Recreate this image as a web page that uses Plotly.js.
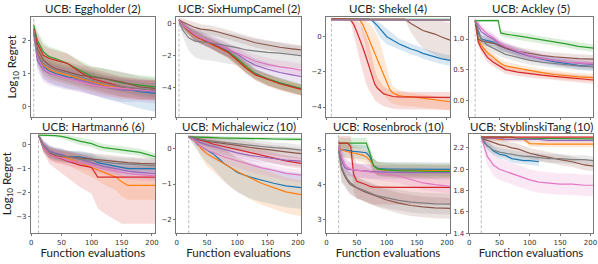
<!DOCTYPE html>
<html><head><meta charset="utf-8">
<script src="https://cdn.plot.ly/plotly-3.0.1.min.js"></script>
<style>html,body{margin:0;padding:0;background:#fff}#g{width:598px;height:264px}</style>
</head><body><div id="g"></div>
<script>
// series order: blue, orange, green, red, purple, brown, pink, gray
const SERIES = ['s1','s2','s3','s4','s5','s6','s7','s8'];
const COLORS = ['#1f77b4','#ff7f0e','#2ca02c','#d62728','#9467bd','#8c564b','#e377c2','#7f7f7f'];
const TITLES = ['UCB: Eggholder (2)','UCB: SixHumpCamel (2)','UCB: Shekel (4)','UCB: Ackley (5)',
                'UCB: Hartmann6 (6)','UCB: Michalewicz (10)','UCB: Rosenbrock (10)','UCB: StyblinskiTang (10)'];
const INIT = [4, 4, 8, 10, 12, 20, 20, 20];
const YRANGES = [[-0.3,2.7],[-5.8,0.4],[-4.55,1.12],[-0.27,1.36],[-3.7,0.45],[-2.38,0.40],[2.6,5.46],[1.4,2.33]];
const YTICKS = [[0,1,2],[-4,-2,0],[-4,-2,0],[0,0.5,1],[-3,-2,-1,0],[-2,-1,0],[3,4,5],[1.4,1.6,1.8,2.0,2.2]];
const XTICKS = [0,50,100,150,200];

// ---- Eggholder (2)
const EGG_X = [4,10,20,30,40,60,80,100,120,150,180,205];
const EGG_MEAN = [
 [2.25,1.55,1.2,1.08,1.0,0.9,0.85,0.75,0.65,0.55,0.45,0.4],
 [2.3,1.65,1.25,1.12,1.05,0.95,0.85,0.75,0.65,0.55,0.5,0.5],
 [2.45,2.0,1.65,1.5,1.45,1.3,1.1,0.92,0.85,0.72,0.65,0.6],
 [2.35,1.9,1.55,1.45,1.4,1.3,1.05,0.85,0.75,0.6,0.52,0.5],
 [2.2,1.4,1.1,1.0,0.95,0.85,0.8,0.72,0.6,0.5,0.5,0.45],
 [2.3,1.75,1.4,1.25,1.15,1.05,0.95,0.9,0.85,0.75,0.6,0.55],
 [2.3,1.5,1.15,1.02,0.95,0.85,0.75,0.65,0.6,0.55,0.5,0.48],
 [2.25,1.6,1.3,1.18,1.1,1.0,0.9,0.8,0.7,0.6,0.55,0.5]];
const EGG_UP = [
 [0.15,0.3,0.3,0.3,0.3,0.3,0.3,0.3,0.3,0.3,0.3,0.3],
 [0.15,0.3,0.3,0.3,0.3,0.3,0.3,0.3,0.3,0.3,0.3,0.3],
 [0.15,0.3,0.3,0.3,0.3,0.3,0.3,0.3,0.3,0.3,0.3,0.3],
 [0.15,0.3,0.3,0.3,0.3,0.3,0.3,0.3,0.3,0.3,0.3,0.3],
 [0.15,0.3,0.3,0.3,0.3,0.3,0.3,0.3,0.3,0.3,0.3,0.3],
 [0.15,0.3,0.3,0.3,0.3,0.3,0.3,0.3,0.3,0.3,0.3,0.3],
 [0.15,0.3,0.3,0.3,0.3,0.3,0.3,0.3,0.3,0.3,0.3,0.3],
 [0.15,0.3,0.3,0.3,0.3,0.3,0.3,0.3,0.3,0.3,0.3,0.3]];
const EGG_DN = [
 [0.2,0.3,0.35,0.35,0.35,0.35,0.35,0.38,0.4,0.45,0.5,0.55],
 [0.15,0.3,0.3,0.3,0.3,0.3,0.3,0.3,0.3,0.3,0.3,0.3],
 [0.15,0.3,0.3,0.3,0.3,0.3,0.3,0.3,0.3,0.3,0.3,0.3],
 [0.15,0.3,0.3,0.3,0.3,0.3,0.3,0.3,0.3,0.3,0.3,0.3],
 [0.15,0.3,0.35,0.35,0.35,0.35,0.35,0.35,0.35,0.35,0.35,0.35],
 [0.15,0.3,0.3,0.3,0.3,0.3,0.3,0.3,0.3,0.3,0.3,0.3],
 [0.15,0.3,0.3,0.3,0.3,0.3,0.3,0.3,0.3,0.3,0.3,0.3],
 [0.15,0.3,0.3,0.3,0.3,0.3,0.3,0.3,0.3,0.3,0.3,0.3]];

// ---- SixHumpCamel (2)
const SHC_X = [4,10,20,30,40,55,70,85,100,115,130,150,170,190,205];
const SHC_MEAN = [
 [0.2,-0.1,-0.45,-0.75,-0.95,-1.2,-1.45,-1.75,-2.2,-2.75,-3.1,-3.45,-3.7,-3.9,-4.05],
 [0.2,-0.1,-0.5,-0.8,-1.0,-1.25,-1.5,-1.8,-2.3,-2.75,-3.15,-3.45,-3.72,-3.92,-4.08],
 [0.2,-0.1,-0.45,-0.75,-0.95,-1.2,-1.5,-1.75,-2.2,-2.7,-3.15,-3.45,-3.7,-3.9,-4.05],
 [0.2,-0.1,-0.45,-0.75,-0.95,-1.2,-1.5,-1.8,-2.3,-2.8,-3.2,-3.5,-3.75,-3.95,-4.1],
 [0.2,-0.1,-0.4,-0.7,-0.9,-1.15,-1.4,-1.65,-1.9,-2.3,-2.6,-2.85,-3.05,-3.2,-3.3],
 [0.2,0.1,-0.1,-0.25,-0.35,-0.42,-0.55,-0.7,-0.88,-1.03,-1.2,-1.35,-1.48,-1.58,-1.65],
 [0.2,-0.1,-0.4,-0.7,-0.9,-1.15,-1.35,-1.6,-1.85,-2.1,-2.35,-2.55,-2.7,-2.8,-2.9],
 [0.1,-0.4,-0.9,-1.1,-1.15,-1.2,-1.3,-1.4,-1.5,-1.65,-1.72,-1.8,-1.85,-1.95,-2.0]];
const SHC_UP = [
 [0.1,0.2,0.25,0.3,0.3,0.3,0.3,0.3,0.3,0.3,0.3,0.3,0.3,0.3,0.3],
 [0.1,0.2,0.25,0.3,0.3,0.3,0.3,0.3,0.3,0.3,0.3,0.3,0.3,0.3,0.3],
 [0.1,0.2,0.25,0.3,0.3,0.3,0.3,0.3,0.3,0.3,0.3,0.3,0.3,0.3,0.3],
 [0.1,0.2,0.25,0.3,0.3,0.3,0.3,0.3,0.3,0.3,0.3,0.3,0.3,0.3,0.3],
 [0.1,0.2,0.3,0.35,0.4,0.4,0.4,0.4,0.4,0.4,0.4,0.4,0.4,0.4,0.4],
 [0.1,0.2,0.3,0.3,0.3,0.3,0.3,0.3,0.3,0.3,0.3,0.3,0.3,0.3,0.3],
 [0.1,0.2,0.3,0.35,0.4,0.4,0.4,0.4,0.4,0.4,0.4,0.4,0.4,0.4,0.4],
 [0.15,0.35,0.6,0.75,0.8,0.8,0.8,0.8,0.8,0.8,0.75,0.7,0.65,0.6,0.6]];
const SHC_DN = [
 [0.1,0.2,0.25,0.3,0.3,0.3,0.35,0.35,0.35,0.35,0.35,0.4,0.4,0.4,0.4],
 [0.1,0.2,0.25,0.3,0.3,0.3,0.35,0.35,0.35,0.35,0.35,0.4,0.4,0.4,0.4],
 [0.1,0.2,0.25,0.3,0.3,0.3,0.35,0.35,0.35,0.35,0.35,0.4,0.4,0.4,0.4],
 [0.1,0.2,0.25,0.3,0.3,0.3,0.35,0.35,0.35,0.35,0.35,0.4,0.4,0.4,0.4],
 [0.1,0.2,0.3,0.35,0.4,0.4,0.4,0.4,0.4,0.4,0.4,0.4,0.4,0.4,0.4],
 [0.1,0.2,0.3,0.3,0.3,0.3,0.3,0.3,0.3,0.3,0.3,0.3,0.3,0.3,0.3],
 [0.1,0.2,0.3,0.35,0.4,0.4,0.4,0.4,0.4,0.4,0.4,0.4,0.4,0.4,0.4],
 [0.15,0.4,0.8,1.0,1.1,1.1,1.1,1.1,1.1,1.0,0.95,0.9,0.85,0.8,0.8]];

// ---- Shekel (4)
const SHK_X = [8,20,30,40,45,50,55,60,65,70,75,80,85,90,95,100,105,110,120,130,140,150,160,170,180,190,205];
const SHK_MEAN = [
 [1.0,1.0,1.0,1.0,1.0,1.0,1.0,1.0,1.0,1.0,0.95,0.8,0.6,0.4,0.2,0.0,-0.1,-0.2,-0.4,-0.55,-0.7,-0.8,-0.95,-1.05,-1.15,-1.25,-1.35],
 [1.0,1.0,1.0,1.0,1.0,1.0,0.95,0.7,0.3,-0.1,-0.5,-0.9,-1.3,-1.75,-2.2,-2.6,-3.0,-3.2,-3.35,-3.4,-3.4,-3.45,-3.5,-3.55,-3.6,-3.65,-3.7],
 [0.99,0.99,0.99,0.99,0.99,0.99,0.99,0.99,0.99,0.99,0.99,0.99,0.99,0.99,0.99,0.99,0.99,0.99,0.99,0.99,0.98,0.98,0.98,0.98,0.98,0.98,0.98],
 [1.0,1.0,1.0,0.95,0.7,0.3,-0.1,-0.6,-1.1,-1.6,-2.2,-2.7,-2.95,-3.1,-3.25,-3.3,-3.35,-3.4,-3.42,-3.43,-3.44,-3.45,-3.45,-3.45,-3.45,-3.45,-3.45],
 [0.97,0.97,0.97,0.97,0.97,0.97,0.97,0.97,0.97,0.97,0.97,0.97,0.97,0.97,0.97,0.97,0.97,0.97,0.97,0.96,0.96,0.96,0.96,0.96,0.96,0.96,0.96],
 [1.0,1.0,1.0,1.0,1.0,1.0,1.0,1.0,1.0,1.0,1.0,1.0,1.0,1.0,1.0,1.0,1.0,1.0,1.0,1.0,0.75,0.55,0.35,0.25,0.15,0.0,-0.2],
 [0.96,0.96,0.96,0.96,0.96,0.96,0.96,0.96,0.96,0.96,0.96,0.96,0.96,0.96,0.96,0.96,0.96,0.96,0.96,0.95,0.95,0.95,0.95,0.95,0.95,0.95,0.95],
 [0.95,0.95,0.95,0.95,0.95,0.95,0.95,0.95,0.95,0.95,0.95,0.95,0.95,0.95,0.95,0.95,0.95,0.95,0.95,0.94,0.94,0.94,0.94,0.94,0.94,0.94,0.94]];
const SHK_UP = [
 [0.03,0.03,0.03,0.03,0.03,0.03,0.03,0.03,0.03,0.03,0.05,0.15,0.25,0.35,0.4,0.45,0.4,0.35,0.3,0.3,0.3,0.3,0.3,0.3,0.3,0.3,0.3],
 [0.03,0.03,0.03,0.03,0.03,0.03,0.05,0.3,0.6,0.9,1.1,1.2,1.3,1.3,1.1,0.9,0.6,0.4,0.3,0.25,0.2,0.2,0.2,0.2,0.2,0.2,0.2],
 [0.03,0.03,0.03,0.03,0.03,0.03,0.03,0.03,0.03,0.03,0.03,0.03,0.03,0.03,0.03,0.03,0.03,0.03,0.03,0.03,0.03,0.03,0.03,0.03,0.03,0.03,0.03],
 [0.03,0.03,0.03,0.05,0.3,0.6,0.9,1.1,1.2,1.2,1.1,0.8,0.6,0.5,0.4,0.35,0.3,0.3,0.3,0.3,0.3,0.3,0.3,0.3,0.3,0.3,0.3],
 [0.03,0.03,0.03,0.03,0.03,0.03,0.03,0.03,0.03,0.03,0.03,0.03,0.03,0.03,0.03,0.03,0.03,0.03,0.03,0.03,0.03,0.03,0.03,0.03,0.03,0.03,0.03],
 [0.03,0.03,0.03,0.03,0.03,0.03,0.03,0.03,0.03,0.03,0.03,0.03,0.03,0.03,0.03,0.03,0.03,0.03,0.03,0.03,0.25,0.45,0.6,0.7,0.8,0.9,1.0],
 [0.03,0.03,0.03,0.03,0.03,0.03,0.03,0.03,0.03,0.03,0.03,0.03,0.03,0.03,0.03,0.03,0.03,0.03,0.03,0.03,0.03,0.03,0.03,0.03,0.03,0.03,0.03],
 [0.03,0.03,0.03,0.03,0.03,0.03,0.03,0.03,0.03,0.03,0.03,0.03,0.03,0.03,0.03,0.03,0.03,0.03,0.03,0.03,0.03,0.03,0.03,0.03,0.03,0.03,0.03]];
const SHK_DN = [
 [0.03,0.03,0.03,0.03,0.03,0.03,0.03,0.03,0.03,0.03,0.1,0.3,0.45,0.5,0.5,0.45,0.4,0.35,0.3,0.3,0.3,0.3,0.3,0.3,0.3,0.3,0.3],
 [0.03,0.03,0.03,0.03,0.03,0.03,0.1,0.5,0.9,1.2,1.5,1.6,1.6,1.4,1.1,0.9,0.7,0.6,0.55,0.55,0.55,0.55,0.55,0.55,0.5,0.5,0.5],
 [0.03,0.03,0.03,0.03,0.03,0.03,0.03,0.03,0.03,0.03,0.03,0.03,0.03,0.03,0.03,0.03,0.03,0.03,0.03,0.03,0.03,0.03,0.03,0.03,0.03,0.03,0.03],
 [0.03,0.03,0.03,0.1,0.5,0.9,1.2,1.4,1.5,1.4,1.1,0.9,0.8,0.75,0.7,0.7,0.7,0.7,0.7,0.7,0.7,0.7,0.7,0.7,0.7,0.7,0.7],
 [0.03,0.03,0.03,0.03,0.03,0.03,0.03,0.03,0.03,0.03,0.03,0.03,0.03,0.03,0.03,0.03,0.03,0.03,0.03,0.03,0.03,0.03,0.03,0.03,0.03,0.03,0.03],
 [0.03,0.03,0.03,0.03,0.03,0.03,0.03,0.03,0.03,0.03,0.03,0.03,0.03,0.03,0.03,0.03,0.03,0.03,0.03,0.03,0.5,0.8,1.0,1.1,1.2,1.2,1.2],
 [0.03,0.03,0.03,0.03,0.03,0.03,0.03,0.03,0.03,0.03,0.03,0.03,0.03,0.03,0.03,0.03,0.03,0.03,0.03,0.03,0.03,0.03,0.03,0.03,0.03,0.03,0.03],
 [0.03,0.03,0.03,0.03,0.03,0.03,0.03,0.03,0.03,0.03,0.03,0.03,0.03,0.03,0.03,0.03,0.03,0.03,0.03,0.03,0.03,0.03,0.03,0.03,0.03,0.03,0.03]];

// ---- Ackley (5)
const ACK_X = [10,15,20,30,40,48,52,60,80,100,120,140,160,180,205];
const ACK_MEAN = [
 [1.3,1.1,1.0,0.97,0.95,0.9,0.88,0.85,0.78,0.72,0.67,0.63,0.6,0.57,0.55],
 [1.3,1.0,0.9,0.78,0.7,0.63,0.6,0.56,0.52,0.48,0.45,0.42,0.4,0.38,0.37],
 [1.3,1.3,1.3,1.3,1.3,1.3,1.1,1.08,1.05,1.02,0.98,0.95,0.92,0.88,0.85],
 [1.3,0.95,0.85,0.7,0.62,0.57,0.55,0.5,0.46,0.43,0.41,0.39,0.37,0.35,0.33],
 [1.3,1.2,1.12,1.05,1.0,0.93,0.9,0.86,0.78,0.72,0.68,0.65,0.62,0.6,0.58],
 [1.3,1.0,0.97,0.95,0.93,0.9,0.88,0.85,0.8,0.76,0.73,0.71,0.69,0.68,0.67],
 [1.3,1.25,1.18,1.08,1.02,0.95,0.92,0.88,0.8,0.73,0.68,0.65,0.62,0.61,0.6],
 [1.3,1.15,1.0,0.9,0.85,0.8,0.78,0.75,0.7,0.65,0.62,0.6,0.58,0.56,0.55]];
const ACK_UP = [
 [0.02,0.06,0.07,0.07,0.07,0.07,0.07,0.07,0.07,0.07,0.07,0.07,0.07,0.07,0.07],
 [0.02,0.06,0.07,0.07,0.07,0.07,0.07,0.07,0.06,0.06,0.06,0.06,0.06,0.06,0.06],
 [0.02,0.02,0.02,0.02,0.02,0.03,0.05,0.06,0.06,0.06,0.06,0.06,0.06,0.06,0.06],
 [0.02,0.06,0.07,0.07,0.07,0.07,0.07,0.07,0.06,0.06,0.06,0.06,0.06,0.06,0.06],
 [0.02,0.05,0.07,0.07,0.07,0.07,0.07,0.07,0.07,0.07,0.07,0.07,0.07,0.07,0.07],
 [0.02,0.06,0.07,0.07,0.07,0.07,0.07,0.07,0.07,0.07,0.07,0.07,0.07,0.07,0.07],
 [0.02,0.05,0.07,0.07,0.07,0.07,0.07,0.07,0.07,0.07,0.07,0.07,0.07,0.07,0.07],
 [0.02,0.06,0.07,0.07,0.07,0.07,0.07,0.07,0.07,0.07,0.07,0.07,0.07,0.07,0.07]];

// ---- Hartmann6 (6)
const HRT_X = [12,20,30,40,50,60,80,100,110,120,140,150,160,180,205];
const HRT_MEAN = [
 [0.4,-0.05,-0.3,-0.38,-0.42,-0.5,-0.5,-0.6,-0.75,-0.8,-0.9,-0.95,-1.0,-1.0,-1.0],
 [0.4,-0.1,-0.35,-0.45,-0.5,-0.55,-0.75,-0.95,-1.05,-1.15,-1.35,-1.55,-1.7,-1.7,-1.7],
 [0.4,0.4,0.4,0.38,0.35,0.3,0.15,0.05,-0.05,-0.12,-0.18,-0.22,-0.25,-0.32,-0.5],
 [0.4,-0.1,-0.4,-0.5,-0.6,-0.68,-0.85,-0.95,-1.35,-1.35,-1.35,-1.35,-1.35,-1.35,-1.35],
 [0.4,0.0,-0.25,-0.35,-0.4,-0.5,-0.6,-0.75,-0.85,-0.9,-1.0,-1.05,-1.1,-1.15,-1.2],
 [0.4,-0.1,-0.35,-0.45,-0.5,-0.5,-0.55,-0.6,-0.65,-0.65,-0.7,-0.72,-0.75,-0.78,-0.8],
 [0.4,-0.1,-0.4,-0.5,-0.55,-0.65,-0.75,-0.85,-0.95,-1.0,-1.1,-1.15,-1.2,-1.25,-1.3],
 [0.4,-0.05,-0.3,-0.4,-0.45,-0.5,-0.6,-0.65,-0.7,-0.72,-0.78,-0.8,-0.82,-0.85,-0.88]];
const HRT_UP = [
 [0.05,0.2,0.25,0.25,0.25,0.25,0.25,0.25,0.25,0.25,0.25,0.25,0.25,0.25,0.25],
 [0.05,0.2,0.25,0.25,0.25,0.25,0.3,0.3,0.3,0.3,0.3,0.3,0.3,0.3,0.3],
 [0.05,0.05,0.05,0.07,0.1,0.12,0.15,0.15,0.15,0.15,0.15,0.15,0.15,0.15,0.15],
 [0.05,0.2,0.3,0.35,0.4,0.4,0.45,0.45,0.45,0.45,0.45,0.45,0.45,0.45,0.45],
 [0.05,0.2,0.25,0.25,0.25,0.25,0.25,0.25,0.25,0.25,0.25,0.25,0.25,0.25,0.25],
 [0.05,0.2,0.25,0.25,0.25,0.25,0.25,0.25,0.25,0.25,0.25,0.25,0.25,0.25,0.25],
 [0.05,0.2,0.25,0.25,0.25,0.25,0.25,0.25,0.25,0.25,0.25,0.25,0.25,0.25,0.25],
 [0.05,0.2,0.25,0.25,0.25,0.25,0.25,0.25,0.25,0.25,0.25,0.25,0.25,0.25,0.25]];
const HRT_DN = [
 [0.05,0.2,0.25,0.25,0.25,0.25,0.25,0.25,0.25,0.25,0.25,0.25,0.25,0.25,0.25],
 [0.05,0.2,0.25,0.3,0.3,0.3,0.35,0.4,0.45,0.5,0.55,0.6,0.6,0.6,0.6],
 [0.05,0.05,0.05,0.07,0.1,0.12,0.15,0.15,0.15,0.15,0.15,0.15,0.15,0.15,0.15],
 [0.05,0.2,0.4,0.5,0.6,0.7,0.9,1.1,1.3,1.5,1.8,1.95,1.95,1.95,1.95],
 [0.05,0.2,0.25,0.25,0.25,0.25,0.25,0.25,0.25,0.25,0.25,0.25,0.25,0.25,0.25],
 [0.05,0.2,0.25,0.25,0.25,0.25,0.25,0.25,0.25,0.25,0.25,0.25,0.25,0.25,0.25],
 [0.05,0.2,0.25,0.25,0.25,0.25,0.25,0.25,0.25,0.25,0.25,0.25,0.25,0.25,0.25],
 [0.05,0.2,0.25,0.25,0.25,0.25,0.25,0.25,0.25,0.25,0.25,0.25,0.25,0.25,0.25]];

// ---- Michalewicz (10)
const MCH_X = [20,25,30,35,40,50,60,70,80,90,100,120,140,160,180,205];
const MCH_MEAN = [
 [0.32,0.25,0.2,0.1,0.05,-0.05,-0.15,-0.3,-0.45,-0.55,-0.68,-0.8,-0.9,-0.98,-1.05,-1.1],
 [0.32,0.28,0.2,0.15,0.0,-0.15,-0.25,-0.35,-0.45,-0.55,-0.65,-0.82,-0.98,-1.1,-1.22,-1.3],
 [0.32,0.32,0.32,0.31,0.31,0.3,0.3,0.29,0.29,0.28,0.28,0.27,0.27,0.26,0.26,0.25],
 [0.32,0.3,0.28,0.25,0.22,0.18,0.12,0.08,0.05,0.0,-0.05,-0.12,-0.2,-0.28,-0.35,-0.42],
 [0.32,0.3,0.25,0.2,0.15,0.1,0.05,0.0,-0.05,-0.1,-0.13,-0.2,-0.25,-0.3,-0.33,-0.36],
 [0.32,0.3,0.28,0.26,0.24,0.2,0.17,0.15,0.12,0.1,0.08,0.03,-0.02,-0.06,-0.1,-0.15],
 [0.32,0.28,0.2,0.12,0.05,-0.05,-0.12,-0.2,-0.25,-0.3,-0.35,-0.45,-0.55,-0.62,-0.7,-0.75],
 [0.32,0.3,0.28,0.26,0.25,0.22,0.2,0.18,0.16,0.14,0.12,0.08,0.05,0.02,0.0,-0.05]];
const MCH_UP = [
 [0.03,0.08,0.12,0.15,0.2,0.25,0.3,0.35,0.4,0.4,0.4,0.4,0.4,0.4,0.4,0.4],
 [0.03,0.08,0.12,0.15,0.2,0.25,0.3,0.35,0.4,0.4,0.4,0.4,0.4,0.4,0.4,0.4],
 [0.03,0.03,0.03,0.04,0.05,0.05,0.05,0.05,0.05,0.05,0.05,0.05,0.05,0.05,0.05,0.05],
 [0.03,0.05,0.07,0.1,0.12,0.15,0.15,0.15,0.15,0.15,0.15,0.15,0.15,0.15,0.15,0.15],
 [0.03,0.05,0.07,0.1,0.12,0.15,0.15,0.15,0.15,0.15,0.15,0.15,0.15,0.15,0.15,0.15],
 [0.03,0.05,0.07,0.1,0.12,0.15,0.15,0.15,0.15,0.15,0.15,0.15,0.15,0.15,0.15,0.15],
 [0.03,0.05,0.07,0.1,0.12,0.15,0.15,0.15,0.15,0.15,0.15,0.15,0.15,0.15,0.15,0.15],
 [0.03,0.05,0.07,0.1,0.12,0.15,0.15,0.15,0.15,0.15,0.15,0.15,0.15,0.15,0.15,0.15]];
const MCH_DN = [
 [0.03,0.08,0.15,0.2,0.25,0.35,0.4,0.45,0.5,0.55,0.55,0.6,0.6,0.6,0.6,0.6],
 [0.03,0.08,0.15,0.2,0.25,0.35,0.4,0.45,0.5,0.55,0.55,0.6,0.6,0.6,0.6,0.6],
 [0.03,0.03,0.03,0.04,0.05,0.05,0.05,0.05,0.05,0.05,0.05,0.05,0.05,0.05,0.05,0.05],
 [0.03,0.05,0.07,0.1,0.12,0.15,0.15,0.15,0.15,0.15,0.15,0.15,0.15,0.15,0.15,0.15],
 [0.03,0.05,0.07,0.1,0.12,0.15,0.15,0.15,0.15,0.15,0.15,0.15,0.15,0.15,0.15,0.15],
 [0.03,0.05,0.07,0.1,0.12,0.15,0.15,0.15,0.15,0.15,0.15,0.15,0.15,0.15,0.15,0.15],
 [0.03,0.05,0.07,0.1,0.12,0.15,0.2,0.2,0.2,0.2,0.2,0.2,0.2,0.2,0.2,0.2],
 [0.03,0.05,0.07,0.1,0.12,0.15,0.15,0.15,0.15,0.15,0.15,0.15,0.15,0.15,0.15,0.15]];

// ---- Rosenbrock (10)
const RSB_X = [20,25,30,35,40,45,50,60,66,72,78,85,100,120,140,160,180,205];
const RSB_MEAN = [
 [5.05,5.0,5.0,4.98,4.97,4.96,4.95,4.93,4.92,4.8,4.55,4.47,4.45,4.45,4.45,4.45,4.44,4.44],
 [5.05,5.0,4.97,4.95,4.93,4.9,4.88,4.85,4.8,4.7,4.55,4.45,4.42,4.42,4.4,4.4,4.4,4.4],
 [5.2,5.2,5.2,5.2,5.2,5.2,5.2,5.2,5.2,4.9,4.55,4.45,4.42,4.4,4.4,4.38,4.38,4.38],
 [5.2,5.2,5.2,5.2,5.1,4.3,4.1,4.05,4.0,3.95,3.93,3.93,3.92,3.92,3.92,3.92,3.92,3.92],
 [5.1,4.7,4.5,4.45,4.43,4.42,4.4,4.4,4.4,4.38,4.37,4.37,4.36,4.36,4.35,4.35,4.35,4.35],
 [5.0,4.45,4.25,4.1,4.0,3.95,3.9,3.82,3.78,3.74,3.7,3.65,3.56,3.47,3.4,3.36,3.33,3.32],
 [5.1,4.8,4.6,4.5,4.45,4.43,4.42,4.4,4.38,4.37,4.35,4.33,4.3,4.25,4.15,4.05,4.0,3.95],
 [5.0,4.5,4.3,4.15,4.05,3.98,3.92,3.85,3.8,3.76,3.72,3.68,3.62,3.55,3.5,3.47,3.45,3.44]];
const RSB_UP = [
 [0.2,0.2,0.2,0.2,0.2,0.2,0.2,0.2,0.2,0.2,0.2,0.2,0.2,0.2,0.2,0.2,0.2,0.2],
 [0.2,0.2,0.2,0.2,0.2,0.2,0.2,0.2,0.2,0.2,0.2,0.2,0.2,0.2,0.2,0.2,0.2,0.2],
 [0.15,0.15,0.15,0.15,0.15,0.15,0.15,0.15,0.15,0.2,0.2,0.2,0.2,0.2,0.2,0.2,0.2,0.2],
 [0.2,0.2,0.2,0.2,0.3,0.5,0.5,0.5,0.5,0.5,0.5,0.5,0.5,0.5,0.5,0.5,0.5,0.5],
 [0.2,0.3,0.25,0.2,0.2,0.2,0.2,0.2,0.2,0.2,0.2,0.2,0.2,0.2,0.2,0.2,0.2,0.2],
 [0.3,0.4,0.3,0.3,0.3,0.3,0.3,0.3,0.3,0.3,0.3,0.3,0.3,0.3,0.3,0.3,0.3,0.3],
 [0.2,0.3,0.25,0.2,0.2,0.2,0.2,0.2,0.2,0.2,0.2,0.2,0.2,0.2,0.2,0.2,0.2,0.2],
 [0.3,0.4,0.3,0.3,0.3,0.3,0.3,0.3,0.3,0.3,0.3,0.3,0.3,0.3,0.3,0.3,0.3,0.3]];

// ---- StyblinskiTang (10)
const STY_X = [20,25,30,35,40,50,60,70,80,90,100,115,130,150,170,190,205];
const STY_MEAN = [
 [2.3,2.25,2.22,2.2,2.17,2.14,2.13,2.1,2.09,2.08,2.08,2.07,null,null,null,null,null],
 [2.3,2.29,2.29,2.29,2.29,2.28,2.28,2.28,2.28,2.28,2.24,2.235,2.235,2.235,2.235,2.235,2.235],
 [2.3,2.3,2.3,2.3,2.3,2.3,2.3,2.3,2.29,2.29,2.29,2.29,2.29,2.29,2.29,2.29,2.285],
 [2.3,2.3,2.3,2.3,2.3,2.3,2.3,2.3,2.3,2.3,2.3,2.3,2.3,2.3,2.3,2.3,2.3],
 [2.3,2.29,2.29,2.29,2.29,2.29,2.28,2.28,2.28,2.28,2.28,2.28,2.27,2.27,2.27,2.27,2.27],
 [2.3,2.28,2.27,2.26,2.25,2.23,2.22,2.2,2.19,2.17,2.15,2.13,2.11,2.09,2.07,2.04,2.03],
 [2.3,2.2,2.12,2.08,2.04,2.0,1.98,1.96,1.94,1.92,1.9,1.88,1.87,1.86,1.86,1.85,1.85],
 [2.3,2.26,2.22,2.2,2.18,2.16,2.15,2.14,2.13,2.12,2.12,2.11,2.1,2.1,2.09,2.09,2.08]];
const STY_UP = [
 [0.01,0.03,0.04,0.04,0.04,0.04,0.04,0.04,0.04,0.04,0.04,0.04,0.04,0.04,0.04,0.04,0.04],
 [0.01,0.02,0.02,0.02,0.02,0.02,0.02,0.02,0.02,0.02,0.03,0.03,0.03,0.03,0.03,0.03,0.03],
 [0.01,0.01,0.01,0.01,0.01,0.01,0.01,0.01,0.01,0.01,0.01,0.01,0.01,0.01,0.01,0.01,0.01],
 [0.01,0.01,0.01,0.01,0.01,0.01,0.01,0.01,0.01,0.01,0.01,0.01,0.01,0.01,0.01,0.01,0.01],
 [0.01,0.02,0.02,0.02,0.02,0.02,0.02,0.02,0.02,0.02,0.02,0.02,0.02,0.02,0.02,0.02,0.02],
 [0.01,0.03,0.04,0.05,0.05,0.05,0.05,0.05,0.05,0.05,0.05,0.05,0.05,0.05,0.05,0.05,0.05],
 [0.01,0.06,0.08,0.09,0.1,0.1,0.1,0.1,0.1,0.1,0.1,0.1,0.1,0.1,0.1,0.1,0.1],
 [0.01,0.03,0.04,0.04,0.04,0.04,0.04,0.04,0.04,0.04,0.04,0.04,0.04,0.04,0.04,0.04,0.04]];

const PANELS = [
  {x: EGG_X, m: EGG_MEAN, up: EGG_UP, dn: EGG_DN},
  {x: SHC_X, m: SHC_MEAN, up: SHC_UP, dn: SHC_DN},
  {x: SHK_X, m: SHK_MEAN, up: SHK_UP, dn: SHK_DN},
  {x: ACK_X, m: ACK_MEAN, up: ACK_UP, dn: ACK_UP},
  {x: HRT_X, m: HRT_MEAN, up: HRT_UP, dn: HRT_DN},
  {x: MCH_X, m: MCH_MEAN, up: MCH_UP, dn: MCH_DN},
  {x: RSB_X, m: RSB_MEAN, up: RSB_UP, dn: RSB_UP},
  {x: STY_X, m: STY_MEAN, up: STY_UP, dn: STY_UP}];

function rgba(hex, a) {
  const r = parseInt(hex.slice(1,3),16), g = parseInt(hex.slice(3,5),16), b = parseInt(hex.slice(5,7),16);
  return `rgba(${r},${g},${b},${a})`;
}

const COLS = [[30.7,155],[176,301],[326,450],[468.5,593.5]];
const ROWS = [[17,116.7],[134,233.3]];
const W = 598, H = 264;

const data = [];
const lines = [];
const layout = {
  width: W, height: H, margin: {l:0,r:0,t:0,b:0},
  paper_bgcolor: '#fff', plot_bgcolor: '#fff', showlegend: false,
  font: {family: 'DejaVu Sans', size: 7, color: '#333'},
  shapes: [], annotations: []
};

PANELS.forEach((p, k) => {
  const ax = k === 0 ? '' : String(k+1);
  const xa = 'x' + ax, ya = 'y' + ax;
  const col = k % 4, row = Math.floor(k / 4);
  const c = COLS[col], r = ROWS[row];
  p.m.forEach((mean, i) => {
    const xs = [], hi = [], lo = [], ms = [];
    p.x.forEach((xv, j) => {
      if (mean[j] === null) return;
      xs.push(xv); ms.push(mean[j]);
      hi.push(mean[j] + p.up[i][j]); lo.push(mean[j] - p.dn[i][j]);
    });
    data.push({type:'scatter', mode:'lines', xaxis:xa, yaxis:ya, hoverinfo:'skip',
      x: xs.concat(xs.slice().reverse()), y: hi.concat(lo.slice().reverse()),
      fill:'toself', fillcolor: rgba(COLORS[i], 0.17), line:{width:0}, name: SERIES[i] + ' band'});
    lines.push({type:'scatter', mode:'lines', xaxis:xa, yaxis:ya, hoverinfo:'skip',
      x: xs, y: ms, line:{color: COLORS[i], width:1.2, shape:'linear'}, name: SERIES[i]});
  });
  const axCommon = {showgrid:false, zeroline:false, showline:true, mirror:true, linecolor:'#555', linewidth:0.8,
    ticks:'outside', ticklen:2, tickwidth:0.8, tickcolor:'#555', tickfont:{family:'DejaVu Sans', size:7, color:'#333'}};
  const xaxis = Object.assign({}, axCommon, {
    domain: [c[0]/W, c[1]/W], anchor: ya, range: [-1, 205], tickvals: XTICKS,
    showticklabels: row === 1
  });
  if (row === 1) xaxis.title = {text:'Function evaluations', font:{family:'Lato', size:11.5, color:'#222'}, standoff: 3};
  layout['xaxis' + ax] = xaxis;
  const yaxis = Object.assign({}, axCommon, {
    domain: [1 - r[1]/H, 1 - r[0]/H], anchor: xa, range: YRANGES[k], tickvals: YTICKS[k],
    ticktext: YTICKS[k].map(v => (k===3 || k===7) ? v.toFixed(1).replace('-', '\u2212') : String(v).replace('-', '\u2212'))
  });
  if (col === 0) yaxis.title = {text:'Log<sub>10</sub> Regret', font:{family:'Lato', size:11.5, color:'#222'}, standoff: 2};
  layout['yaxis' + ax] = yaxis;
  layout.shapes.push({type:'line', xref:xa, yref: ya + ' domain', x0: INIT[k], x1: INIT[k], y0:0, y1:1,
    line:{color:'#aaa', width:0.8, dash:'3px,2px'}, layer:'below'});
  layout.annotations.push({text: TITLES[k], xref:'paper', yref:'paper', x:(c[0]+c[1])/2/W, y:1 - (r[0]+0.5)/H,
    xanchor:'center', yanchor:'bottom', showarrow:false, font:{family:'Lato', size:11.5, color:'#222'}});
});

Plotly.newPlot('g', data.concat(lines), layout, {staticPlot:true, displayModeBar:false});
</script></body></html>
